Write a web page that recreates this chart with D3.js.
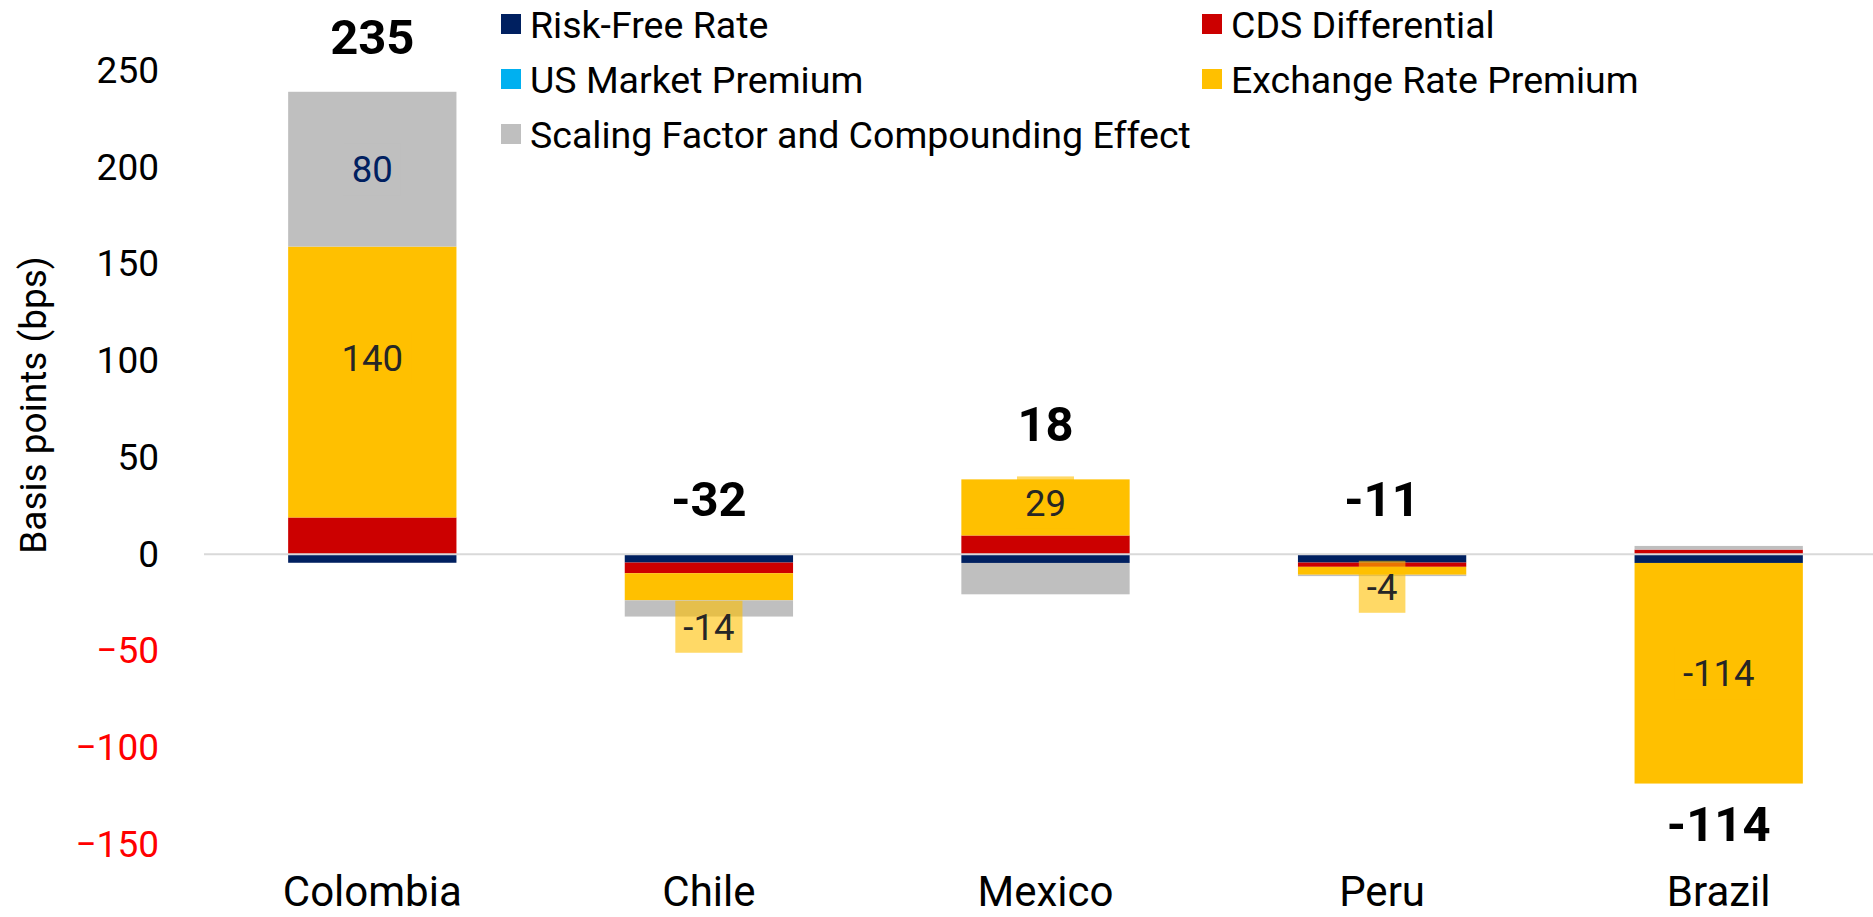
<!DOCTYPE html>
<html>
<head>
<meta charset="utf-8">
<script src="https://cdn.jsdelivr.net/npm/d3@7"></script>
<style>
  body { margin: 0; background: #fff; }
  svg { display: block; font-family: Roboto, 'Noto Sans', sans-serif; }
</style>
</head>
<body>
<svg></svg>
<script>
const width = 1873;
const height = 917;

// chart values (basis points)
const countries = ['Colombia', 'Chile', 'Mexico', 'Peru', 'Brazil'];
const seriesNames = ['Risk-Free Rate', 'CDS Differential', 'US Market Premium', 'Exchange Rate Premium', 'Scaling Factor and Compounding Effect'];
const riskFree = [-4.4, -4.3, -4.5, -4.3, -4.5];
const cdsDiff = [19, -5.5, 9.7, -2.2, 2.4];
const usMarket = [0, 0, 0, 0, 0];
const fxPremium = [140, -14, 29, -4.1, -114];
const scaling = [80, -8.4, -16.2, -0.7, 1.9];
const yTicks = [-150, -100, -50, 0, 50, 100, 150, 200, 250];

const colors = ['#002060', '#CC0000', '#00B0F0', '#FFC000', '#BFBFBF'];
const labelColors = ['#262626', '#262626', '#262626', '#262626', '#002060'];
// manual nudges of the exchange-rate labels, like the hand-placed labels in the original
const fxLabelShift = {Colombia: -24, Chile: 40, Mexico: -5, Peru: 16, Brazil: 0};

const rows = countries.map((c, i) => ({
  country: c,
  s0: riskFree[i], s1: cdsDiff[i], s2: usMarket[i], s3: fxPremium[i], s4: scaling[i]
}));
const keys = ['s0', 's1', 's2', 's3', 's4'];
const stack = d3.stack().keys(keys).offset(d3.stackOffsetDiverging)(rows);

const svg = d3.select('svg')
  .attr('width', width)
  .attr('height', height);

const xScale = d3.scaleBand()
  .domain(countries)
  .range([204, 1887])
  .paddingInner(0.5)
  .paddingOuter(0.25);
const yScale = d3.scaleLinear()
  .domain([-150, 250])
  .range([844.5, 70.5]);

// y axis labels, no line
const yAxis = d3.axisLeft(yScale).tickValues(yTicks).tickSize(0).tickPadding(0);
const yG = svg.append('g')
  .attr('transform', 'translate(159,0)')
  .call(yAxis);
yG.select('.domain').remove();
yG.selectAll('text')
  .style('font-family', 'Roboto')
  .style('font-size', '37px')
  .attr('fill', d => d < 0 ? '#FF0000' : '#000');

svg.append('text')
  .attr('transform', 'rotate(-90)')
  .attr('x', -405)
  .attr('y', 33)
  .attr('dy', '0.35em')
  .style('text-anchor', 'middle')
  .style('font-size', '37px')
  .text('Basis points (bps)');

// stacked bars
const layers = svg.append('g').selectAll('g')
  .data(stack)
  .enter()
  .append('g')
  .attr('fill', (d, i) => colors[i]);

layers.selectAll('rect')
  .data(d => d)
  .enter()
  .append('rect')
  .attr('x', d => xScale(d.data.country))
  .attr('y', d => yScale(Math.max(d[0], d[1])))
  .attr('width', xScale.bandwidth())
  .attr('height', d => Math.abs(yScale(d[0]) - yScale(d[1])));

// zero line
svg.append('line')
  .attr('x1', 204)
  .attr('x2', width)
  .attr('y1', yScale(0))
  .attr('y2', yScale(0))
  .attr('stroke', '#D9D9D9')
  .attr('stroke-width', 2);

// segment labels: exchange rate premium always, others when big
const segLabels = [];
stack.forEach((layer, i) => {
  layer.forEach(d => {
    const v = d.data[keys[i]];
    if (i === 3 || Math.abs(v) >= 50) {
      segLabels.push({country: d.data.country, v, i, mid: (d[0] + d[1]) / 2});
    }
  });
});

const lab = svg.append('g').selectAll('g')
  .data(segLabels)
  .enter()
  .append('g')
  .attr('transform', d => {
    const shift = d.i === 3 ? fxLabelShift[d.country] : 0;
    return `translate(${xScale(d.country) + xScale.bandwidth() / 2},${yScale(d.mid) + shift})`;
  });

const labBox = lab.append('rect')
  .attr('y', -26)
  .attr('height', 52)
  .attr('fill', d => colors[d.i])
  .attr('fill-opacity', d => d.i === 3 ? 0.6 : 0.3);

const labText = lab.append('text')
  .attr('dy', '0.36em')
  .style('text-anchor', 'middle')
  .style('font-size', '36.5px')
  .attr('fill', d => labelColors[d.i])
  .text(d => Math.round(d.v));

labBox.each(function(d, i) {
  const w = labText.nodes()[i].getComputedTextLength() + 16;
  d3.select(this).attr('x', -w / 2).attr('width', w);
});

// totals
const totals = rows.map(r => {
  const vals = keys.map(k => r[k]);
  return {
    country: r.country,
    total: d3.sum(vals),
    top: d3.sum(vals.filter(v => v > 0)),
    bottom: d3.sum(vals.filter(v => v < 0))
  };
});

svg.append('g').selectAll('text')
  .data(totals)
  .enter()
  .append('text')
  .attr('x', d => xScale(d.country) + xScale.bandwidth() / 2)
  .attr('y', d => d.total < -100 ? yScale(d.bottom) + 57 : yScale(Math.max(0, d.top)) - 38)
  .style('text-anchor', 'middle')
  .style('font-size', '49px')
  .style('font-weight', 'bold')
  .text(d => Math.round(d.total));

// category labels
svg.append('g').selectAll('text')
  .data(countries)
  .enter()
  .append('text')
  .attr('x', d => xScale(d) + xScale.bandwidth() / 2)
  .attr('y', 906)
  .style('text-anchor', 'middle')
  .style('font-size', '42px')
  .text(d => d);

// legend
const legend = svg.append('g').selectAll('g')
  .data(seriesNames)
  .enter()
  .append('g')
  .attr('transform', (d, i) => `translate(${i % 2 === 0 ? 501 : 1202},${24 + Math.floor(i / 2) * 55})`);

legend.append('rect')
  .attr('x', 0)
  .attr('y', -10)
  .attr('width', 20)
  .attr('height', 20)
  .attr('fill', (d, i) => colors[i]);

legend.append('text')
  .attr('x', 29)
  .attr('dy', '0.36em')
  .style('font-size', '37.5px')
  .text(d => d);
</script>
</body>
</html>
